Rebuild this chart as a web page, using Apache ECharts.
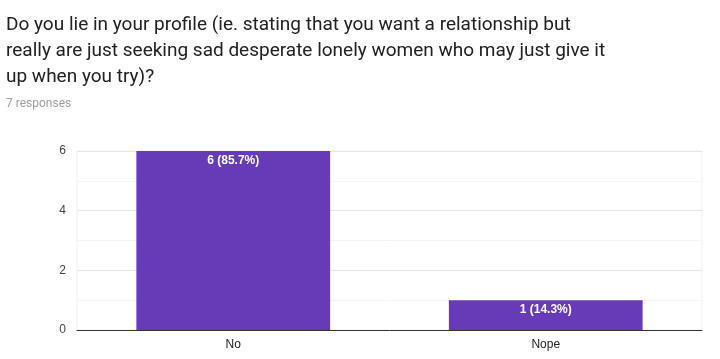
<!DOCTYPE html>
<html><head><meta charset="utf-8">
<script src="https://cdn.jsdelivr.net/npm/echarts@6/dist/echarts.min.js"></script>
<style>html,body{margin:0;padding:0;background:#fff}#c{width:720px;height:359px}</style>
</head><body><div id="c"></div>
<script>
const categories = ["No", "Nope"];
const values = [6, 1];
const percents = ["85.7%", "14.3%"];
const yTicks = [0, 2, 4, 6];
const titleText = "Do you lie in your profile (ie. stating that you want a relationship but\nreally are just seeking sad desperate lonely women who may just give it\nup when you try)?";
const subText = "7 responses";

const chart = echarts.init(document.getElementById('c'));
chart.setOption({
  animation: false,
  title: [
    {text: titleText, left: 1, top: 7, textStyle: {fontFamily: 'Roboto', fontSize: 19, fontWeight: 'normal', color: '#212121', lineHeight: 26}},
    {text: subText, left: 1, top: 93, textStyle: {fontFamily: 'Roboto', fontSize: 12, fontWeight: 'normal', color: '#9e9e9e'}}
  ],
  grid: {left: 77, right: 18, top: 151, bottom: 29, show: true, borderColor: '#f0f0f0', borderWidth: 1},
  xAxis: {
    type: 'category', data: categories,
    axisLine: {lineStyle: {color: '#333', width: 1}},
    axisTick: {show: false},
    axisLabel: {fontFamily: 'Arial', fontSize: 12, color: '#222', margin: 9}
  },
  yAxis: {
    type: 'value', min: yTicks[0], max: yTicks[yTicks.length-1], interval: 2,
    axisLine: {show: false}, axisTick: {show: false},
    axisLabel: {fontFamily: 'Arial', fontSize: 12, color: '#444', margin: 11},
    splitLine: {lineStyle: {color: '#e6e6e6'}},
    minorTick: {show: false, splitNumber: 2},
    minorSplitLine: {show: true, lineStyle: {color: '#f4f4f4'}}
  },
  series: [{
    type: 'bar', data: values, barWidth: '62%',
    itemStyle: {color: '#673ab7'},
    label: {show: true, position: 'insideTop', distance: 4, color: '#fff', fontFamily: 'Arial', fontSize: 12, fontWeight: 'bold',
      formatter: p => p.value + ' (' + percents[p.dataIndex] + ')'}
  }]
});
</script></body></html>
